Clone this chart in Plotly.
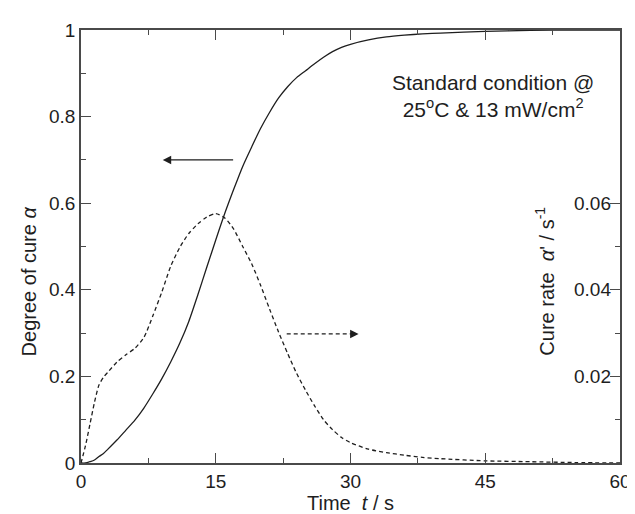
import plotly.graph_objects as go

# ---- data ----
time_s = [0, 0.5, 1, 1.5, 2, 2.5, 3, 4, 5, 6, 7, 8, 9, 10, 11, 12, 13, 14, 15, 16, 17, 18,
          19, 20, 21, 22, 23, 24, 25, 26, 27, 28, 29, 30, 32, 34, 36, 38, 40, 45, 50, 55, 60]
degree_of_cure = [0, 0.0, 0.003, 0.007, 0.015, 0.022, 0.032, 0.053, 0.076, 0.099, 0.127, 0.16,
                  0.195, 0.234, 0.277, 0.327, 0.388, 0.452, 0.515, 0.576, 0.632, 0.685,
                  0.73, 0.773, 0.81, 0.843, 0.869, 0.89, 0.906, 0.922, 0.937, 0.95, 0.96,
                  0.967, 0.977, 0.984, 0.988, 0.991, 0.993, 0.997, 0.999, 1.0, 1.0]
cure_rate = [0, 0.004, 0.009, 0.014, 0.018, 0.0198, 0.021, 0.0233, 0.025, 0.0265, 0.029, 0.034,
             0.0395, 0.0455, 0.0498, 0.053, 0.0552, 0.0568, 0.0576, 0.0566, 0.054, 0.050,
             0.046, 0.041, 0.0355, 0.0302, 0.0253, 0.0207, 0.0168, 0.0132, 0.010, 0.0077,
             0.0059, 0.0047, 0.0032, 0.0024, 0.0018, 0.0013, 0.001, 0.0005, 0.0003, 0.0001, 0.0]

x_ticks = [0, 15, 30, 45, 60]
x_minor = [7.5, 22.5, 37.5, 52.5]
left_ticks = [0, 0.2, 0.4, 0.6, 0.8, 1]
left_labels = ["0", "0.2", "0.4", "0.6", "0.8", "1"]
left_minor = [0.1, 0.3, 0.5, 0.7, 0.9]
right_ticks = [0.02, 0.04, 0.06]
right_labels = ["0.02", "0.04", "0.06"]
right_minor = [0.01, 0.03, 0.05]

# arrows (data coordinates)
left_arrow = dict(t_from=17.1, t_to=9.1, level=0.70)
right_arrow = dict(t_from=22.9, t_to=30.9, level=0.0298)

FONT = "Liberation Sans, Arial, sans-serif"
INK = "#1e1e1e"
AX = "#4a4a4a"

fig = go.Figure()
fig.add_trace(go.Scatter(x=time_s, y=degree_of_cure, mode="lines",
                         line=dict(color=INK, width=1.3, shape="spline", smoothing=0.7),
                         showlegend=False))
fig.add_trace(go.Scatter(x=time_s, y=cure_rate, mode="lines", yaxis="y2",
                         line=dict(color=INK, width=1.3, dash="4px,3px", shape="spline", smoothing=0.7),
                         showlegend=False))

axis_common = dict(showgrid=False, zeroline=False, showline=True, linecolor=AX, linewidth=1.6,
                   ticks="inside", tickcolor=AX, tickwidth=1.3, ticklen=10,
                   tickfont=dict(family=FONT, size=19, color=INK))

fig.update_layout(
    width=635, height=514,
    margin=dict(l=73, r=12, t=18, b=59),
    paper_bgcolor="white", plot_bgcolor="white",
    xaxis=dict(range=[0, 60], tickvals=x_ticks, ticktext=[str(v) for v in x_ticks],
               mirror="ticks", ticklabeloverflow="allow",
               minor=dict(tickvals=x_minor, ticks="inside", ticklen=5, tickcolor=AX, tickwidth=1.3),
               **axis_common),
    yaxis=dict(range=[0, 1], tickvals=left_ticks, ticktext=left_labels, ticklabeloverflow="allow",
               minor=dict(tickvals=left_minor, ticks="inside", ticklen=5, tickcolor=AX, tickwidth=1.3),
               **axis_common),
    yaxis2=dict(range=[0, 0.1], overlaying="y", side="right", tickvals=right_ticks,
                ticktext=right_labels, ticklabelposition="inside", ticklabeloverflow="allow",
                minor=dict(tickvals=right_minor, ticks="inside", ticklen=5, tickcolor=AX, tickwidth=1.3),
                **axis_common),
)

title_font = dict(family=FONT, size=20, color=INK)
fig.add_annotation(text="Degree of cure <i>α</i>", xref="paper", yref="paper", x=-0.096, y=0.42,
                   textangle=-90, showarrow=False, font=title_font, xanchor="center", yanchor="middle")
fig.add_annotation(text="Cure rate  <i>α</i>' / s<sup>-1</sup>", xref="paper", yref="paper", x=0.86, y=0.42,
                   textangle=-90, showarrow=False, font=title_font, xanchor="center", yanchor="middle")
fig.add_annotation(text="Time  <i>t</i> / s", xref="paper", yref="paper", x=0.5, y=-0.092,
                   showarrow=False, font=title_font, xanchor="center", yanchor="middle")
fig.add_annotation(text="Standard condition @<br>25<sup>o</sup>C & 13 mW/cm<sup>2</sup>",
                   xref="paper", yref="paper", x=0.765, y=0.848, showarrow=False,
                   font=dict(family=FONT, size=21, color=INK), align="center",
                   xanchor="center", yanchor="middle")

# left solid arrow
fig.add_annotation(x=left_arrow["t_to"], y=left_arrow["level"], ax=left_arrow["t_from"], ay=left_arrow["level"],
                   xref="x", yref="y", axref="x", ayref="y", text="", showarrow=True,
                   arrowhead=2, arrowsize=1.3, arrowwidth=1.3, arrowcolor=INK)
# right dashed arrow
fig.add_shape(type="line", xref="x", yref="y2", x0=right_arrow["t_from"], x1=right_arrow["t_to"] - 0.5,
              y0=right_arrow["level"], y1=right_arrow["level"],
              line=dict(color=INK, width=1.3, dash="4px,3px"))
fig.add_annotation(x=right_arrow["t_to"], y=right_arrow["level"], ax=right_arrow["t_to"] - 0.6,
                   ay=right_arrow["level"], xref="x", yref="y2", axref="x", ayref="y2", text="",
                   showarrow=True, arrowhead=2, arrowsize=1.3, arrowwidth=1.3, arrowcolor=INK)

fig.write_html("out.html")
